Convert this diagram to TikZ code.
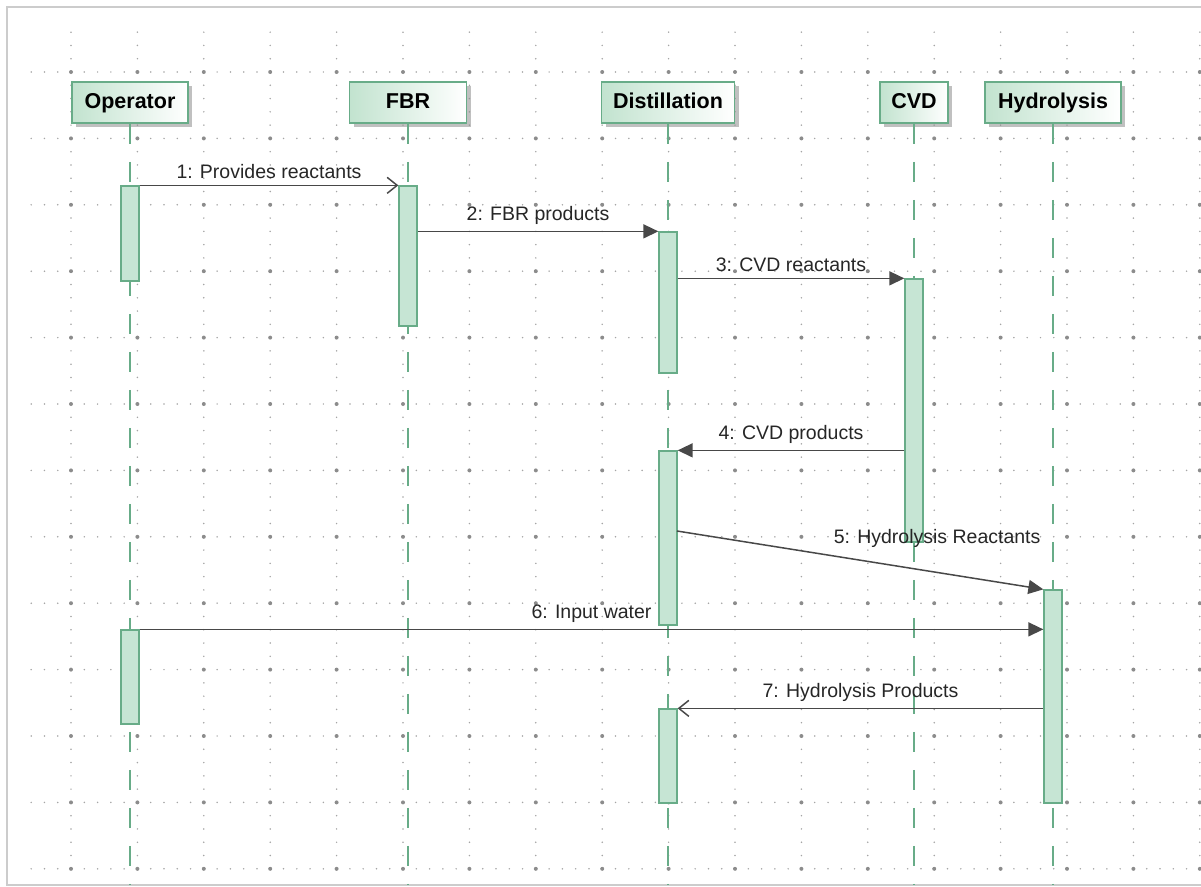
\documentclass[tikz,border=0pt]{standalone}
\usepackage{fontspec}
\setmainfont{Liberation Sans}
\usetikzlibrary{arrows.meta,shadows}

\definecolor{umlline}{RGB}{104,172,136}
\definecolor{umlfill}{RGB}{198,229,212}
\definecolor{hdrfill}{RGB}{194,227,207}
\definecolor{msgline}{RGB}{72,72,72}
\definecolor{griddot}{RGB}{165,165,165}

\tikzset{
  griddots/.style={draw=griddot, line width=1.7pt, line cap=round, dash pattern=on 0pt off 13.28pt},
  header/.style={draw=umlline, line width=1.5pt, left color=hdrfill, right color=white,
    minimum height=41pt, inner sep=0pt, text height=15pt, text depth=4pt,
    font=\fontsize{21.5}{25}\selectfont\bfseries,
    drop shadow={shadow xshift=4pt, shadow yshift=-4pt, fill=black!45, opacity=.55}},
  activation/.style={draw=umlline, line width=1.3pt, fill=umlfill, minimum width=18pt, inner sep=0pt},
  lifeline/.style={draw=umlline, line width=2pt, dash pattern=on 20pt off 18pt},
  msg/.style={draw=msgline, line width=1.5pt},
  filledhead/.style={-{Triangle[length=15pt,width=14pt]}},
  openhead/.style={-{Straight Barb[length=10pt,width=16pt]}},
  msglabel/.style={font=\fontsize{19.5}{23}\selectfont, text=black!85, inner sep=2pt, above=4pt}
}

\begin{document}
\begin{tikzpicture}[x=1pt,y=-1pt]
  \useasboundingbox (0,0) rectangle (1201,886);

  % dotted grid
  \foreach \i in {0,...,17}
    \draw[griddots] ({71+66.4*\i},32.16) -- ({71+66.4*\i},882);
  \foreach \j in {0,...,12}
    \draw[griddots] (31.2,{72+66.4*\j}) -- (1195,{72+66.4*\j});
  \foreach \i in {0,...,17}
    \foreach \j in {0,...,12}
      \fill[black!45] ({71+66.4*\i},{72+66.4*\j}) circle (2pt);

  % frame
  \draw[black!20, line width=1.5pt] (7,7) rectangle (1205,885);

  % lifeline heads
  \begin{scope}[every node/.style={header}]
    \node[minimum width=116pt] (op)  at (130,102.5)  {Operator};
    \node[minimum width=117pt] (fbr) at (408,102.5)  {FBR};
    \node[minimum width=133pt] (dis) at (668,102.5)  {Distillation};
    \node[minimum width=68pt]  (cvd) at (914,102.5)  {CVD};
    \node[minimum width=136pt] (hyd) at (1053,102.5) {Hydrolysis};
  \end{scope}

  \coordinate (bottom) at (0,884);
  \foreach \l in {op,fbr,dis,cvd,hyd}
    \draw[lifeline] (\l.south) -- (\l.south |- bottom);

  % activations
  \begin{scope}[every node/.style={activation}]
    \node[minimum height=95pt]  (op1)  at (130,233.5)  {};
    \node[minimum height=94pt]  (op2)  at (130,677)    {};
    \node[minimum height=140pt] (fbr1) at (408,256)    {};
    \node[minimum height=141pt] (dis1) at (668,302.5)  {};
    \node[minimum height=174pt] (dis2) at (668,538)    {};
    \node[minimum height=94pt]  (dis3) at (668,756)    {};
    \node[minimum height=263pt] (cvd1) at (914,410.5)  {};
    \node[minimum height=213pt] (hyd1) at (1053,696.5) {};
  \end{scope}

  \coordinate (m5) at (677,531);

  % messages
  \draw[msg,openhead] (op1.north east) -- node[msglabel] (l1) {1: Provides reactants} (fbr1.north west);
  \draw[msg,filledhead] (fbr1.east |- dis1.north) -- node[msglabel] (l2) {2: FBR products} (dis1.north west);
  \draw[msg,filledhead] (dis1.east |- cvd1.north) -- node[msglabel] (l3) {3: CVD reactants} (cvd1.north west);
  \draw[msg,filledhead] (cvd1.west |- dis2.north) -- node[msglabel] (l4) {4: CVD products} (dis2.north east);
  \draw[msg,filledhead] (m5) -- node[msglabel, pos=.71, above=18pt] (l5) {5: Hydrolysis Reactants} (hyd1.north west);
  \draw[msg,filledhead] (op2.north east) -- node[msglabel] (l6) {6: Input water} (hyd1.west |- op2.north);
  \draw[msg,openhead] (hyd1.west |- dis3.north) -- node[msglabel] (l7) {7: Hydrolysis Products} (dis3.north east);

\end{tikzpicture}
\end{document}
